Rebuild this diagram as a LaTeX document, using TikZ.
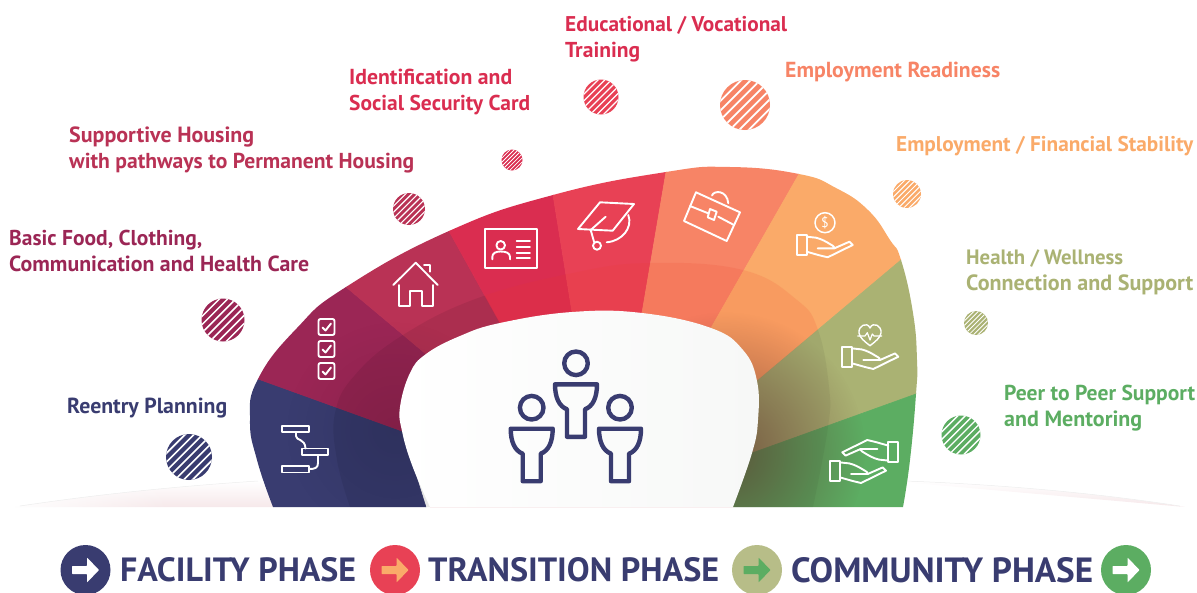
\documentclass[tikz,border=0pt]{standalone}
\usepackage{fontspec}
\setmainfont{PT Sans}
\usetikzlibrary{calc,fadings}
\definecolor{cNavy}{RGB}{57,60,112}
\definecolor{cPlum}{RGB}{155,38,85}
\definecolor{cRose}{RGB}{185,50,85}
\definecolor{cRed}{RGB}{218,45,80}
\definecolor{cCoral}{RGB}{232,65,85}
\definecolor{cSalmon}{RGB}{247,132,102}
\definecolor{cOrange}{RGB}{250,170,105}
\definecolor{cOlive}{RGB}{170,178,115}
\definecolor{cGreen}{RGB}{92,173,98}
\definecolor{cFloor}{RGB}{246,232,234}
\definecolor{cShade}{RGB}{95,45,40}
\definecolor{cPaper}{RGB}{247,248,247}
\definecolor{cTint}{RGB}{235,60,40}
\tikzfading[name=softglow, inner color=transparent!35, outer color=transparent!100]
\tikzfading[name=fadeoutright, left color=transparent!0, right color=transparent!100]
\tikzset{
  icon/.style={draw=white,line width=1.9pt,line join=round,line cap=round,fill=none},
  people/.style={draw=cNavy,line width=4.4pt,line join=round,fill=none},
  lab/.style={anchor=west,inner sep=0pt,align=left,font=\bfseries\fontsize{20}{26}\selectfont},
  legend/.style={anchor=west,inner sep=0pt,text=cNavy,font=\bfseries\fontsize{30}{30}\selectfont},
  wedge/.style={fill=#1,draw=#1,line width=.6pt},
}
\newcommand{\Lw}[2]{\resizebox{#1pt}{!}{#2}}
\newcommand{\outerpath}{plot[smooth,tension=.8] coordinates {(273,507)(257,460)(250,420)(258,379)(297,328)(346,287)(449,231)(553,195)(666,172)(730,167)(799,174)(836,188)(868,210)(890,240)(901,260)(913,313)(917,360)(916,394)(910,460)(903,507)} -- cycle}
\newcommand{\innerpath}{plot[smooth,tension=.7] coordinates {(430,507)(412,465)(402,431)(400,407)(410,373)(426,354)(460,336)(500,323)(572,312)(642,313)(711,328)(743,350)(757,381)(758,420)(752,453)(733,507)} -- cycle}
\newcommand{\bandpath}{plot[smooth,tension=.7] coordinates {(350,507)(337,460)(335,413)(355,375)(403,335)(478,298)(573,273)(650,263)(743,270)(797,300)(818,330)(829,387)(828,427)(813,507)} -- cycle}
\newcommand{\hatchdot}[4]{%
  \fill[#4] (#1,#2) circle[radius=#3];
  \begin{scope}
    \clip (#1,#2) circle[radius=#3];
    \pgfmathsetmacro{\hstep}{#3*2/7.4}
    \pgfmathsetlengthmacro{\hlw}{\hstep*0.26pt}
    \foreach \k in {-6,...,6}{
      \draw[white,line width=\hlw] ($(#1,#2)+(\k*\hstep*1.414-2*#3,2*#3)$) -- ($(#1,#2)+(\k*\hstep*1.414+2*#3,-2*#3)$);
    }
  \end{scope}}
\newcommand{\handicon}[2]{%
  \begin{scope}[shift={(#1)},#2]
    \draw[icon] (0,0) rectangle (10,20);
    \draw[icon] (10,1.7) -- (19.3,2.7) .. controls (25,4) and (30,7) .. (34,9.5) .. controls (37,11) and (38,12.5) .. (37.7,13.3) -- (21,13.3);
    \draw[icon] (37.7,13.3) -- (52.7,6.7) -- (56,10) -- (31,22.3) -- (22.7,20.3) -- (10,16.7);
  \end{scope}}
\newcommand{\person}[1]{%
  \begin{scope}[shift={(#1)}]
    \draw[people] (0,0) circle[radius=11.8];
    \draw[people] (-21,21) -- (21,21) .. controls (21,34) and (17,43) .. (9,46) -- (9,73.5) -- (-9,73.5) -- (-9,46) .. controls (-17,43) and (-21,34) .. (-21,21) -- cycle;
  \end{scope}}
\newcommand{\phasedot}[4]{%
  \fill[#3] (#1,#2) circle[radius=25];
  \fill[#4] ($(#1,#2)+(-13.5,-4)$) [rounded corners=.6pt] -- ($(#1,#2)+(1.5,-4)$) -- ($(#1,#2)+(1.5,-12.5)$) -- ($(#1,#2)+(13.5,0)$) -- ($(#1,#2)+(1.5,12.5)$) -- ($(#1,#2)+(1.5,4)$) -- ($(#1,#2)+(-13.5,4)$) -- cycle;}
\begin{document}
\begin{tikzpicture}[x=1pt,y=-1pt]
\useasboundingbox (0,0) rectangle (1197,592);
\clip (0,0) rectangle (1197,592);
% floor
\shade[top color=white,bottom color=cFloor] (15,507) .. controls (100,494) and (180,486) .. (262,481) -- (290,507) -- cycle;
\fill[white,path fading=fadeoutright] (10,478) rectangle (170,509);
\shade[top color=white,bottom color=cFloor] (890,481) .. controls (990,484) and (1090,492) .. (1185,507) -- cycle;
\draw[gray!14,line width=.5pt] (20,506) .. controls (100,494) and (180,486) .. (258,481);
\draw[gray!14,line width=.5pt] (905,481) .. controls (990,484) and (1090,492) .. (1180,506);
% ring
\begin{scope}
  \clip \outerpath;
  \path[wedge=cNavy] (430,520) -- (402,431) -- ($(402,431)!1.4!(258,379)$) -- (200,520) -- cycle;
  \path[wedge=cPlum] (402,431) -- (258,379) -- ($(402,431)!1.4!(258,379)$) -- ($(426,354)!1.4!(346,287)$) -- (426,354) -- cycle;
  \path[wedge=cRose] (426,354) -- ($(426,354)!1.4!(346,287)$) -- ($(500,323)!1.4!(449,231)$) -- (500,323) -- cycle;
  \path[wedge=cRed] (500,323) -- ($(500,323)!1.4!(449,231)$) -- ($(572,312)!1.4!(553,195)$) -- (572,312) -- cycle;
  \path[wedge=cCoral] (572,312) -- ($(572,312)!1.4!(553,195)$) -- ($(642,313)!1.4!(666,172)$) -- (642,313) -- cycle;
  \path[wedge=cSalmon] (642,313) -- ($(642,313)!1.4!(666,172)$) -- ($(711,328)!1.4!(799,174)$) -- (711,328) -- cycle;
  \path[wedge=cOrange] (711,328) -- ($(711,328)!1.4!(799,174)$) -- ($(757,381)!1.4!(901,260)$) -- (757,381) -- cycle;
  \path[wedge=cOlive] (757,381) -- ($(757,381)!1.4!(901,260)$) -- ($(752,453)!1.4!(916,394)$) -- (752,453) -- cycle;
  \path[wedge=cGreen] (752,453) -- ($(752,453)!1.4!(916,394)$) -- (980,520) -- (720,520) -- cycle;
  % inner band: darker on the left and right, warmer at the top
  \begin{scope}
    \clip (200,180) -- (421,180) -- (500,323) -- (500,520) -- (200,520) -- cycle;
    \fill[black,opacity=.07] \bandpath;
  \end{scope}
  \begin{scope}
    \clip (421,180) -- (500,323) -- (500,400) -- (757,381) -- (901,260) -- (901,180) -- cycle;
    \fill[cTint,opacity=.13] \bandpath;
  \end{scope}
  \begin{scope}
    \clip (757,381) -- (500,400) -- (500,520) -- (950,520) -- (950,219) -- (901,260) -- cycle;
    \fill[black,opacity=.05] \bandpath;
  \end{scope}
  % shadows next to the white shape
  \fill[cShade,path fading=softglow] (725,452) circle[radius=140];
  \fill[black,opacity=.15,path fading=softglow] (395,430) circle[radius=110];
\end{scope}
% white centre
\shade[left color=white,right color=cPaper] \innerpath;
\draw[cFloor!70!white,line width=.5pt] (430,507.3) -- (733,507.3);
% people
\person{576,363.3}
\person{531.7,407.7}
\person{620,407.7}
% gantt
\draw[icon] (282,426) rectangle (309,432);
\draw[icon] (302,448.5) rectangle (328,455);
\draw[icon] (282,466) rectangle (309,472.5);
\draw[icon] (296,432) -- (296,436) .. controls (296,441) and (305,438) .. (305.5,448.5);
\draw[icon] (318,455) -- (318,463) .. controls (318,468) and (315,469) .. (309,469);
% checklist
\foreach \yy in {319,341,363}{
  \draw[icon,rounded corners=2pt] (318.5,\yy) rectangle (334.5,\yy+16);
  \draw[icon] (322.5,\yy+8.5) -- (325.5,\yy+11.5) -- (331,\yy+4.5);
}
% house
\draw[icon] (393.3,285) -- (415.7,262.7) -- (437.7,285);
\draw[icon] (424,265) -- (430.3,265) -- (430.3,271.7);
\draw[icon] (399,285) -- (399,305.7) -- (410,305.7) -- (410,291) -- (421.7,291) -- (421.7,305.7) -- (432.7,305.7) -- (432.7,285);
% id card
\draw[icon] (485,229) rectangle (537.3,268);
\draw[icon] (500.7,245.3) circle[radius=4.3];
\draw[icon] (492.3,259.3) -- (492.3,257) .. controls (492.3,253) and (496,251.5) .. (500.7,251.5) .. controls (506,251.5) and (510,253) .. (510,257) -- (510,259.3);
\foreach \yy in {240.7,247,252.7,258.3}{\draw[icon] (516.7,\yy) -- (530,\yy);}
% graduation cap
\draw[icon] (600,202.3) -- (634,204) -- (612.7,230.7) -- (578,229) -- cycle;
\draw[icon] (590.7,230) -- (605.7,216.7);
\draw[icon] (590.7,230) -- (594,241.7);
\draw[icon] (597,245.7) circle[radius=4];
\draw[icon] (628.3,215) .. controls (633,228) and (622,241) .. (606.7,242.3);
% briefcase
\draw[icon] (696,192.3) -- (740,212.3) -- (726.7,241) -- (684,221) -- cycle;
\draw[icon] (690,206) -- (708.3,213.3);
\draw[icon] (718.3,216.7) -- (734,225);
\draw[icon] (710,209) -- (716.7,211.7) -- (714,220) -- (707.7,217.3) -- cycle;
\draw[icon] (712,195.5) .. controls (714,190) and (727,190) .. (728.3,203.3);
% dollar hand
\draw[icon,line width=1.5pt] (825,222.7) circle[radius=10];
\node[inner sep=0pt,text=white,font=\fontsize{14}{14}\selectfont] (dollar) at (825,222.7) {\$};
\handicon{796.7,235}{}
% heart hand
\draw[icon,line width=1.4pt] (870,345.7) .. controls (864,341) and (860,338) .. (859,333) .. controls (858,326) and (867,321) .. (870,328) .. controls (873,321) and (882,326) .. (881,333) .. controls (880,338) and (876,341) .. (870,345.7) -- cycle;
\draw[icon,line width=1.2pt] (857.7,336) -- (865,336) -- (867.3,332.7) -- (870,340) -- (872.3,334) -- (874,336) -- (881.7,336);
\handicon{842.3,346.7}{}
% two hands
\handicon{830,460.7}{}
\handicon{898.3,462.3}{xscale=-1,yscale=-1}
% dots
\hatchdot{189}{457}{23}{cNavy}
\hatchdot{223}{320}{21.5}{cPlum}
\hatchdot{409}{209}{16}{cRose}
\hatchdot{512}{160}{10.5}{cRed}
\hatchdot{601}{97}{17.5}{cCoral}
\hatchdot{745}{105}{25}{cSalmon}
\hatchdot{907}{194}{14}{cOrange}
\hatchdot{976}{323}{12}{cOlive}
\hatchdot{961}{435}{19.5}{cGreen}
% labels
\node[lab,text=cNavy] (l1) at (67,408) {\Lw{160}{Reentry Planning}};
\node[lab,text=cPlum] (l2) at (9,251) {\Lw{193}{Basic Food, Clothing,}\\\Lw{300}{Communication and Health Care}};
\node[lab,text=cRose] (l3) at (69,150) {\Lw{185}{Supportive Housing}\\\Lw{345}{with pathways to Permanent Housing}};
\node[lab,text=cRed] (l4) at (349,92) {\Lw{163}{Identification and}\\\Lw{181}{Social Security Card}};
\node[lab,text=cRed] (l5) at (565,39) {\Lw{222}{Educational / Vocational}\\\Lw{75}{Training}};
\node[lab,text=cSalmon] (l6) at (785,72) {\Lw{215}{Employment Readiness}};
\node[lab,text=cOrange] (l7) at (896,146) {\Lw{297}{Employment / Financial Stability}};
\node[lab,text=cOlive] (l8) at (966,272) {\Lw{157}{Health / Wellness}\\\Lw{227}{Connection and Support}};
\node[lab,text=cGreen] (l9) at (1004,408) {\Lw{191}{Peer to Peer Support}\\\Lw{138}{and Mentoring}};
% legend
\phasedot{85.5}{570}{cNavy}{white}
\phasedot{395}{570}{cCoral}{cOrange}
\phasedot{757}{570}{cOlive!85!white}{cGreen}
\phasedot{1126}{570}{cGreen}{white}
\node[legend] (p1) at (120,570) {\resizebox{236pt}{24pt}{FACILITY PHASE}};
\node[legend] (p2) at (428,570) {\resizebox{291pt}{24pt}{TRANSITION PHASE}};
\node[legend] (p3) at (791,570) {\resizebox{302pt}{25pt}{COMMUNITY PHASE}};
\end{tikzpicture}
\end{document}
